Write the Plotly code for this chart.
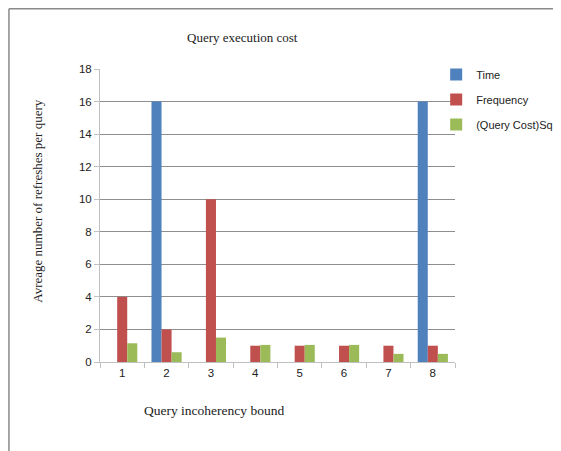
import plotly.graph_objects as go

categories = ["1", "2", "3", "4", "5", "6", "7", "8"]
time_vals = [0, 16, 0, 0, 0, 0, 0, 16]
frequency_vals = [4, 2, 10, 1, 1, 1, 1, 1]
qcost_sq_vals = [1.15, 0.6, 1.5, 1.05, 1.05, 1.05, 0.5, 0.5]
y_ticks = [0, 2, 4, 6, 8, 10, 12, 14, 16, 18]

series = [
    ("Time", time_vals, "#4F81BD"),
    ("Frequency", frequency_vals, "#C0504D"),
    ("(Query Cost)Sq", qcost_sq_vals, "#9BBB59"),
]

fig = go.Figure()
for i, (name, vals, color) in enumerate(series):
    fig.add_trace(go.Bar(
        x=categories, y=vals, name=name,
        marker=dict(color=color, line=dict(width=0)),
        legendgroup=f"g{i}",
    ))

sans = "Liberation Sans, Arial, sans-serif"
serif = "Liberation Serif, Times New Roman, serif"

fig.update_layout(
    width=553, height=443,
    margin=dict(l=92, r=106, t=61, b=89, autoexpand=False),
    paper_bgcolor="white", plot_bgcolor="white",
    barmode="group", bargap=0.32, bargroupgap=0,
    showlegend=True,
    legend=dict(x=0.947, y=1.031, xanchor="left", yanchor="top",
                bgcolor="rgba(0,0,0,0)",
                font=dict(family=sans, size=11, color="#222"),
                tracegroupgap=6, itemwidth=30),
    xaxis=dict(type="category", showgrid=False, showline=True, linecolor="#c0c0c0",
               linewidth=1, ticks="outside", ticklen=5, tickcolor="#c0c0c0",
               tickson="boundaries",
               tickfont=dict(family=sans, size=11.5, color="#222")),
    yaxis=dict(range=[0, 18], tickvals=y_ticks, showgrid=True, gridcolor="#8e8e8e",
               gridwidth=1, showline=True, linecolor="#c0c0c0", linewidth=1,
               ticks="outside", ticklen=5, tickcolor="#c0c0c0", zeroline=False,
               tickfont=dict(family=sans, size=11.5, color="#222")),
    annotations=[
        dict(text="Query execution cost", xref="paper", yref="paper", x=0.4, y=1.109,
             xanchor="center", yanchor="middle",
             showarrow=False, font=dict(family=serif, size=13, color="#222")),
        dict(text="Query incoherency bound", xref="paper", yref="paper", x=0.321, y=-0.167,
             xanchor="center", yanchor="middle",
             showarrow=False, font=dict(family=serif, size=13.5, color="#222")),
        dict(text="Avreage number of refreshes per query", xref="paper", yref="paper",
             x=-0.175, y=0.55, textangle=-90, xanchor="center", yanchor="middle",
             showarrow=False, font=dict(family=serif, size=13, color="#222")),
    ],
    shapes=[
        dict(type="line", xref="paper", yref="paper", x0=-0.2565, x1=-0.2565,
             y0=-0.31, y1=1.2056, line=dict(color="#8a8a8a", width=1.5)),
        dict(type="line", xref="paper", yref="paper", x0=-0.2565, x1=1.31,
             y0=1.2056, y1=1.2056, line=dict(color="#8a8a8a", width=1.5)),
    ],
)

fig.write_html("out.html")
